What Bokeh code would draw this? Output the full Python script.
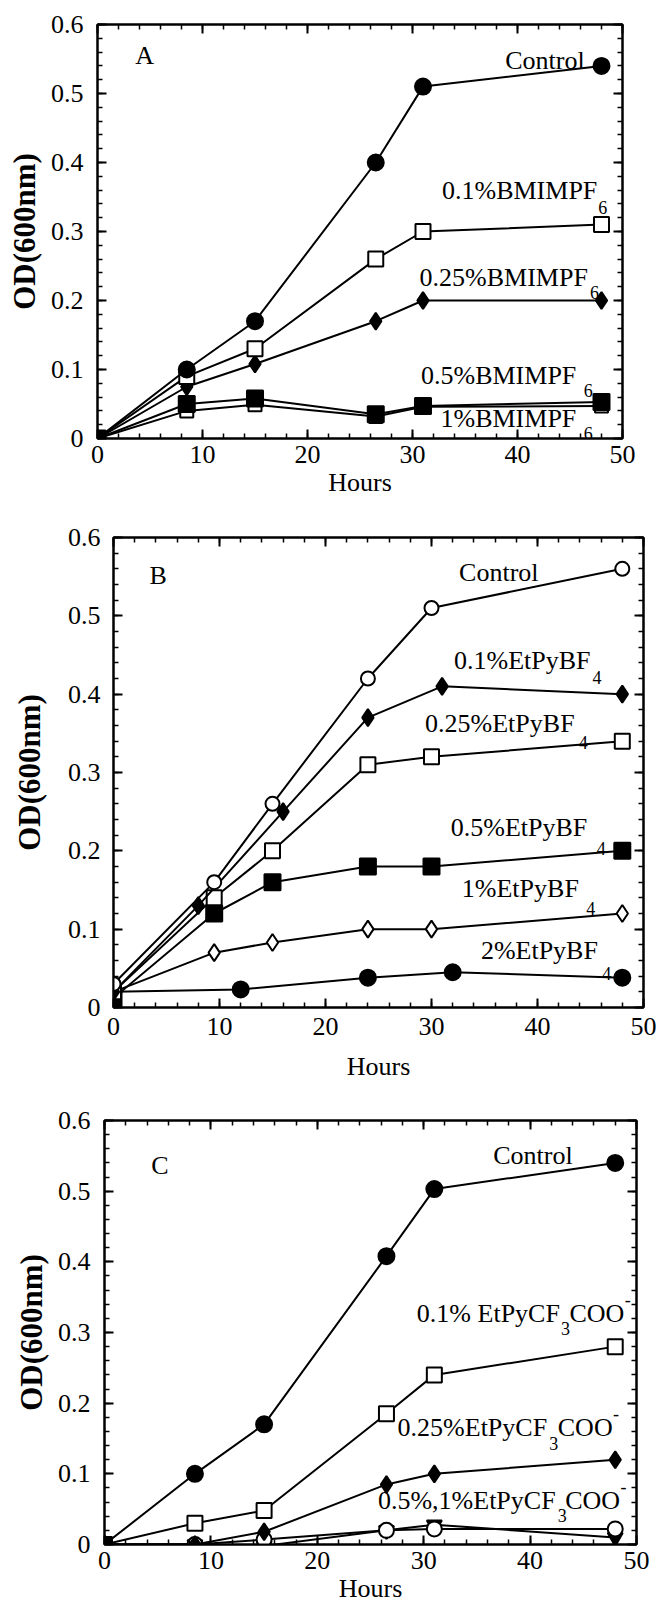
from bokeh.plotting import figure
from bokeh.layouts import column
from bokeh.models import LinearAxis, Range1d, FixedTicker, Label
from bokeh.embed import file_html
from bokeh.resources import INLINE

FONT = "Liberation Serif"

# ---------------- data ----------------
x_ticks = [0, 10, 20, 30, 40, 50]
x_minor = list(range(0, 51, 2))
y_ticks = [0, 0.1, 0.2, 0.3, 0.4, 0.5, 0.6]
y_minor = [0, 0.02, 0.04, 0.06, 0.08, 0.1, 0.12, 0.14, 0.16, 0.18, 0.2, 0.22, 0.24, 0.26, 0.28,
           0.3, 0.32, 0.34, 0.36, 0.38, 0.4, 0.42, 0.44, 0.46, 0.48, 0.5, 0.52, 0.54, 0.56, 0.58, 0.6]
y_tick_labels = {0: "0", 0.1: "0.1", 0.2: "0.2", 0.3: "0.3", 0.4: "0.4", 0.5: "0.5", 0.6: "0.6"}
x_title = "Hours"
y_title = "OD(600nm)"

# Panel A : BMIMPF6
hours_a = [0, 8.5, 15, 26.5, 31, 48]
a_control = [0, 0.100, 0.170, 0.400, 0.510, 0.540]
a_01 = [0, 0.090, 0.130, 0.260, 0.300, 0.310]
a_025 = [0, 0.075, 0.108, 0.170, 0.200, 0.200]
a_05 = [0, 0.050, 0.058, 0.035, 0.047, 0.053]
a_1 = [0, 0.040, 0.049, 0.032, 0.046, 0.047]

# Panel B : EtPyBF4
b_hours_control = [0, 9.5, 15, 24, 30, 48]
b_control = [0.030, 0.160, 0.260, 0.420, 0.510, 0.560]
b_hours_01 = [0, 8, 16, 24, 31, 48]
b_01 = [0.020, 0.130, 0.250, 0.370, 0.410, 0.400]
b_hours_025 = [0, 9.5, 15, 24, 30, 48]
b_025 = [0.020, 0.140, 0.200, 0.310, 0.320, 0.340]
b_hours_05 = [0, 9.5, 15, 24, 30, 48]
b_05 = [0.012, 0.120, 0.160, 0.180, 0.180, 0.200]
b_hours_1 = [0, 9.5, 15, 24, 30, 48]
b_1 = [0.020, 0.070, 0.083, 0.100, 0.100, 0.120]
b_hours_2 = [0, 12, 24, 32, 48]
b_2 = [0.020, 0.023, 0.038, 0.045, 0.038]

# Panel C : EtPyCF3COO-
hours_c = [0, 8.5, 15, 26.5, 31, 48]
c_control = [0, 0.100, 0.170, 0.408, 0.503, 0.540]
c_01 = [0, 0.030, 0.048, 0.185, 0.240, 0.280]
c_025 = [0, 0.000, 0.018, 0.085, 0.100, 0.120]
c_05 = [0, 0.000, 0.007, 0.020, 0.022, 0.022]
c_1 = [0, 0.000, -0.002, 0.020, 0.028, 0.010]

TICK_FS = "26px"
ANN_FS = "26px"
SUB_FS = "18px"


def style_axis(ax):
    ax.axis_line_width = 2
    ax.axis_line_color = "black"
    ax.major_tick_in = 9
    ax.major_tick_out = 0
    ax.minor_tick_in = 5
    ax.minor_tick_out = 0
    ax.major_tick_line_width = 2
    ax.minor_tick_line_width = 1.5


def make_panel(frame_w, frame_h, left, right, top, bottom,
               xlab_standoff, xaxis_standoff, ylab_standoff, yaxis_standoff):
    p = figure(frame_width=frame_w, frame_height=frame_h,
               x_range=Range1d(0, 50), y_range=Range1d(0, 0.6),
               output_backend="svg", toolbar_location=None,
               min_border_left=left, min_border_right=right,
               min_border_top=top, min_border_bottom=bottom,
               background_fill_color="white", border_fill_color="white")
    p.frame_align = False
    p.xgrid.visible = False
    p.ygrid.visible = False
    p.outline_line_color = "black"
    p.outline_line_width = 2

    xt = FixedTicker(ticks=x_ticks, minor_ticks=x_minor)
    yt = FixedTicker(ticks=y_ticks, minor_ticks=y_minor)
    p.xaxis.ticker = xt
    p.yaxis.ticker = yt
    p.yaxis.major_label_overrides = y_tick_labels

    for ax in (p.xaxis[0], p.yaxis[0]):
        style_axis(ax)
        ax.major_label_text_font = FONT
        ax.major_label_text_font_size = TICK_FS
        ax.major_label_text_color = "black"
        ax.axis_label_text_font = FONT
        ax.axis_label_text_color = "black"

    p.xaxis.axis_label = x_title
    p.xaxis.axis_label_text_font_style = "normal"
    p.xaxis.axis_label_text_font_size = "26px"
    p.xaxis.major_label_standoff = xlab_standoff
    p.xaxis.axis_label_standoff = xaxis_standoff

    p.yaxis.axis_label = y_title
    p.yaxis.axis_label_text_font_style = "bold"
    p.yaxis.axis_label_text_font_size = "31px"
    p.yaxis.major_label_standoff = ylab_standoff
    p.yaxis.axis_label_standoff = yaxis_standoff

    # mirrored inward ticks on top and right (no labels)
    for side, tk in (("above", xt), ("right", yt)):
        ax = LinearAxis(ticker=tk)
        style_axis(ax)
        ax.major_label_text_font_size = "1px"
        ax.major_label_text_color = None
        ax.major_label_text_alpha = 0
        ax.major_label_standoff = 0
        p.add_layout(ax, side)
    return p


def series(p, xs, ys, marker, filled, size):
    p.line(xs, ys, line_color="black", line_width=2)
    p.scatter(xs, ys, marker=marker, size=size, line_color="black", line_width=2,
              fill_color="black" if filled else "white")


def label(p, x, y, text, size=ANN_FS, align="left"):
    p.add_layout(Label(x=x, y=y, text=text, text_font=FONT, text_font_size=size,
                       text_baseline="middle", text_align=align, text_color="black"))


# ---------------- Panel A ----------------
pa = make_panel(525, 414, 97, 34, 24, 72, 7, 2, 14, 6)
series(pa, hours_a, a_1, "square", False, 13)
series(pa, hours_a, a_05, "square", True, 16)
series(pa, hours_a, a_025, "diamond", True, 17)
series(pa, hours_a, a_01, "square", False, 15)
series(pa, hours_a, a_control, "circle", True, 16)
label(pa, 3.6, 0.555, "A")
label(pa, 46.4, 0.548, "Control", align="right")
label(pa, 47.6, 0.36, "0.1%BMIMPF", align="right")
label(pa, 47.7, 0.335, "6", SUB_FS)
label(pa, 46.7, 0.234, "0.25%BMIMPF", align="right")
label(pa, 46.9, 0.212, "6", SUB_FS)
label(pa, 45.6, 0.091, "0.5%BMIMPF", align="right")
label(pa, 46.3, 0.07, "6", SUB_FS)
label(pa, 45.6, 0.029, "1%BMIMPF", align="right")
label(pa, 46.3, 0.007, "6", SUB_FS)

# ---------------- Panel B ----------------
pb = make_panel(530, 470, 113, 13, 27, 88, 10, 14, 13, 18)
series(pb, b_hours_2, b_2, "circle", True, 16)
series(pb, b_hours_1, b_1, "diamond", False, 17)
series(pb, b_hours_05, b_05, "square", True, 16)
series(pb, b_hours_025, b_025, "square", False, 15)
series(pb, b_hours_01, b_01, "diamond", True, 17)
series(pb, b_hours_control, b_control, "circle", False, 14)
label(pb, 3.4, 0.551, "B")
label(pb, 40.1, 0.555, "Control", align="right")
label(pb, 45.0, 0.443, "0.1%EtPyBF", align="right")
label(pb, 45.2, 0.421, "4", SUB_FS)
label(pb, 43.5, 0.363, "0.25%EtPyBF", align="right")
label(pb, 43.9, 0.338, "4", SUB_FS)
label(pb, 44.7, 0.230, "0.5%EtPyBF", align="right")
label(pb, 45.6, 0.203, "4", SUB_FS)
label(pb, 43.9, 0.152, "1%EtPyBF", align="right")
label(pb, 44.6, 0.126, "4", SUB_FS)
label(pb, 45.7, 0.073, "2%EtPyBF", align="right")
label(pb, 46.1, 0.043, "4", SUB_FS)

# ---------------- Panel C ----------------
pc = make_panel(532, 424, 104, 20, 25, 68, 7, 2, 14, 6)
series(pc, hours_c, c_1, "inverted_triangle", True, 15)
series(pc, hours_c, c_05, "circle", False, 15)
series(pc, hours_c, c_025, "diamond", True, 17)
series(pc, hours_c, c_01, "square", False, 15)
series(pc, hours_c, c_control, "circle", True, 16)
label(pc, 4.4, 0.536, "C")
label(pc, 44.0, 0.55, "Control", align="right")
label(pc, 42.8, 0.327, "0.1% EtPyCF", align="right")
label(pc, 42.9, 0.305, "3", SUB_FS)
label(pc, 43.7, 0.327, "COO")
label(pc, 48.9, 0.347, "-", SUB_FS)
label(pc, 41.6, 0.165, "0.25%EtPyCF", align="right")
label(pc, 41.8, 0.143, "3", SUB_FS)
label(pc, 42.6, 0.165, "COO")
label(pc, 47.8, 0.185, "-", SUB_FS)
label(pc, 42.4, 0.062, "0.5%,1%EtPyCF", align="right")
label(pc, 42.6, 0.041, "3", SUB_FS)
label(pc, 43.3, 0.062, "COO")
label(pc, 48.5, 0.082, "-", SUB_FS)

layout = column(pa, pb, pc, spacing=0)
open("out.html", "w").write(file_html(layout, INLINE))
